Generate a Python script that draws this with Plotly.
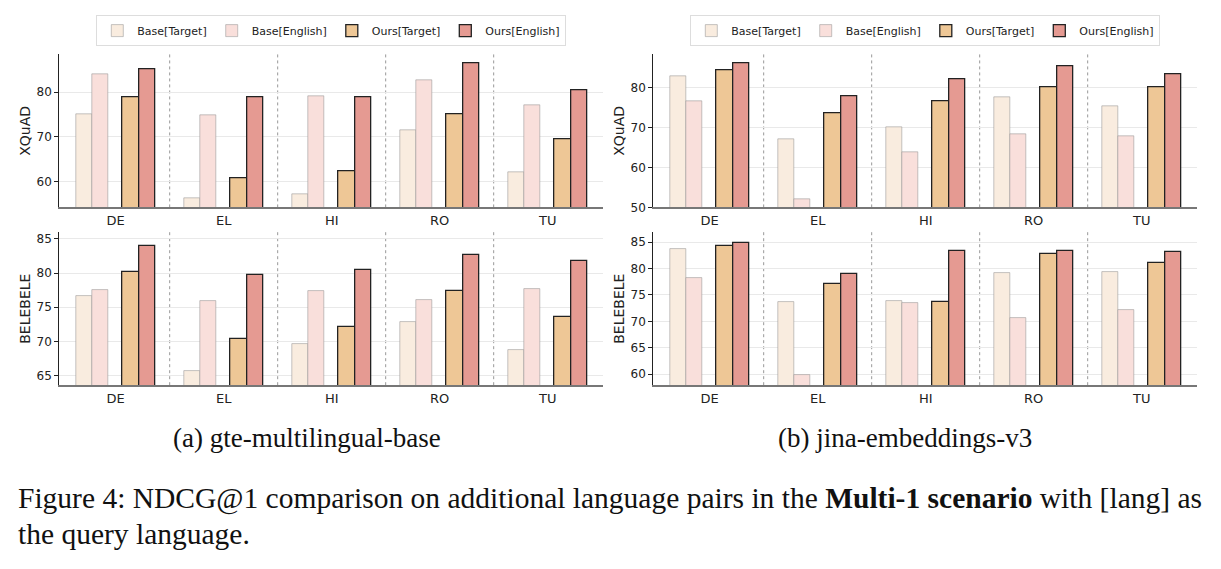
import plotly.graph_objects as go

categories = ["DE", "EL", "HI", "RO", "TU"]
series_names = ["Base[Target]", "Base[English]", "Ours[Target]", "Ours[English]"]

# gte-multilingual-base
gte_xquad_base_target = [75.1, 56.3, 57.2, 71.4, 62.1]
gte_xquad_base_english = [84.0, 74.9, 79.2, 82.7, 77.0]
gte_xquad_ours_target = [78.9, 60.7, 62.2, 75.1, 69.5]
gte_xquad_ours_english = [85.2, 78.8, 78.8, 86.5, 80.5]

gte_belebele_base_target = [76.7, 65.6, 69.6, 72.9, 68.7]
gte_belebele_base_english = [77.5, 75.9, 77.3, 76.0, 77.6]
gte_belebele_ours_target = [80.1, 70.4, 72.1, 77.3, 73.5]
gte_belebele_ours_english = [83.9, 79.7, 80.4, 82.6, 81.8]

# jina-embeddings-v3
jina_xquad_base_target = [83.0, 67.0, 70.0, 77.5, 75.4]
jina_xquad_base_english = [76.5, 52.0, 63.9, 68.3, 67.8]
jina_xquad_ours_target = [84.4, 73.6, 76.7, 80.1, 80.2]
jina_xquad_ours_english = [86.2, 77.8, 82.1, 85.3, 83.5]

jina_belebele_base_target = [83.7, 73.6, 73.8, 79.1, 79.3]
jina_belebele_base_english = [78.1, 59.9, 73.4, 70.7, 72.1]
jina_belebele_ours_target = [84.2, 77.0, 73.6, 82.7, 81.0]
jina_belebele_ours_english = [84.8, 78.9, 83.3, 83.3, 83.2]

xquad_gte_ticks = [60, 70, 80]
xquad_jina_ticks = [50, 60, 70, 80]
belebele_gte_ticks = [65, 70, 75, 80, 85]
belebele_jina_ticks = [60, 65, 70, 75, 80, 85]

# ---- styling ----
W, H = 1221, 569
fill_colors = ["#f9ecdf", "#f9dfdb", "#eec796", "#e59a92"]
edge_colors = ["rgba(150,150,150,0.55)", "rgba(150,150,150,0.55)", "#222222", "#222222"]
edge_widths = [1, 1, 1.3, 1.3]
offsets = [-0.29, -0.14, 0.14, 0.29]
bar_width = 0.15

panels = [
    ("x", "y", [gte_xquad_base_target, gte_xquad_base_english, gte_xquad_ours_target, gte_xquad_ours_english],
     [54.2, 88.5], xquad_gte_ticks, "XQuAD", "legend"),
    ("x2", "y2", [jina_xquad_base_target, jina_xquad_base_english, jina_xquad_ours_target, jina_xquad_ours_english],
     [50, 88.4], xquad_jina_ticks, "XQuAD", "legend2"),
    ("x3", "y3", [gte_belebele_base_target, gte_belebele_base_english, gte_belebele_ours_target, gte_belebele_ours_english],
     [63.6, 86.0], belebele_gte_ticks, "BELEBELE", None),
    ("x4", "y4", [jina_belebele_base_target, jina_belebele_base_english, jina_belebele_ours_target, jina_belebele_ours_english],
     [57.9, 86.9], belebele_jina_ticks, "BELEBELE", None),
]

def px_x(p):
    return p / W

def px_y(p):
    return 1 - p / H

xdom_a = [px_x(59.3), px_x(603.3)]
xdom_b = [px_x(653.3), px_x(1197.3)]
ydom_top = [px_y(210), px_y(55)]
ydom_bot = [px_y(390), px_y(235)]
domains = [(xdom_a, ydom_top), (xdom_b, ydom_top), (xdom_a, ydom_bot), (xdom_b, ydom_bot)]

fig = go.Figure()
layout = {}
shapes = []

for k, (xa, ya, series, yr, ticks, ytitle, leg) in enumerate(panels):
    for i, vals in enumerate(series):
        xs = [c + offsets[i] for c in range(len(categories))]
        fig.add_trace(go.Bar(
            x=xs, y=vals, width=bar_width, name=series_names[i],
            xaxis=xa, yaxis=ya,
            marker=dict(color=fill_colors[i], line=dict(color=edge_colors[i], width=edge_widths[i])),
            showlegend=leg is not None, legend=leg if leg else "legend",
        ))
    xd, yd = domains[k]
    xkey = "xaxis" if xa == "x" else "xaxis" + xa[1:]
    ykey = "yaxis" if ya == "y" else "yaxis" + ya[1:]
    layout[xkey] = dict(
        domain=xd, anchor=ya, range=[-0.522, 4.515],
        tickvals=list(range(len(categories))), ticktext=categories,
        showgrid=False, zeroline=False, showline=True, linecolor="#777777", linewidth=1.6,
        ticks="", tickfont=dict(family="DejaVu Sans", size=13, color="#222222"),
        fixedrange=True,
    )
    layout[ykey] = dict(
        domain=yd, anchor=xa, range=yr, tickvals=ticks,
        showgrid=True, gridcolor="#e9e9e9", gridwidth=1, zeroline=False,
        showline=True, linecolor="#222222", linewidth=1,
        ticks="outside", ticklen=4, tickcolor="#222222", tickwidth=1,
        tickfont=dict(family="DejaVu Sans", size=12, color="#222222"),
        title=dict(text=ytitle, font=dict(family="DejaVu Sans", size=14, color="#222222"), standoff=2),
        fixedrange=True,
    )
    for b in range(len(categories) - 1):
        shapes.append(dict(
            type="line", xref=xa, yref=ya + " domain", x0=b + 0.5, x1=b + 0.5, y0=0, y1=1,
            line=dict(color="#999999", width=1, dash="dot"), layer="below",
        ))

legend_common = dict(
    orientation="h", xanchor="center", yanchor="middle", y=px_y(31),
    bgcolor="white", bordercolor="#dddddd", borderwidth=1,
    font=dict(family="DejaVu Sans", size=11, color="#222222"),
    itemwidth=30, tracegroupgap=0, traceorder="normal",
)

annotations = [
    dict(text="(a) gte-multilingual-base", x=px_x(307), y=px_y(443), xref="paper", yref="paper",
         showarrow=False, xanchor="center", yanchor="middle",
         font=dict(family="Liberation Serif", size=27, color="#111111")),
    dict(text="(b) jina-embeddings-v3", x=px_x(905), y=px_y(443), xref="paper", yref="paper",
         showarrow=False, xanchor="center", yanchor="middle",
         font=dict(family="Liberation Serif", size=27, color="#111111")),
    dict(text="Figure 4: NDCG@1 comparison on additional language pairs in the <b>Multi-1 scenario</b> with [lang] as",
         x=px_x(16), y=px_y(505), xref="paper", yref="paper",
         showarrow=False, xanchor="left", yanchor="middle",
         font=dict(family="Liberation Serif", size=29.5, color="#111111")),
    dict(text="the query language.",
         x=px_x(16), y=px_y(541), xref="paper", yref="paper",
         showarrow=False, xanchor="left", yanchor="middle",
         font=dict(family="Liberation Serif", size=29.5, color="#111111")),
]

fig.update_layout(
    width=W, height=H, margin=dict(l=0, r=0, t=0, b=0),
    paper_bgcolor="white", plot_bgcolor="white",
    barmode="overlay", bargap=0,
    legend=dict(x=(xdom_a[0] + xdom_a[1]) / 2, **legend_common),
    legend2=dict(x=(xdom_b[0] + xdom_b[1]) / 2, **legend_common),
    shapes=shapes, annotations=annotations,
    **layout,
)

fig.write_html("out.html")
